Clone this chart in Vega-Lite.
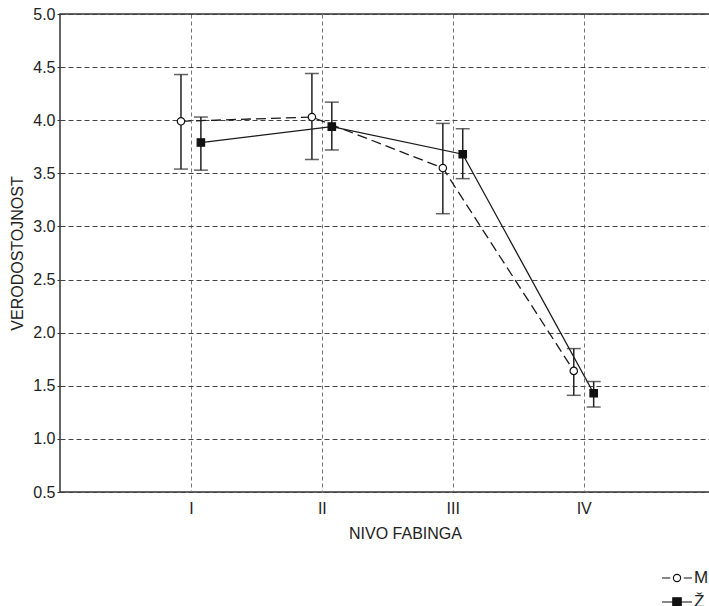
{
  "$schema": "https://vega.github.io/schema/vega-lite/v6.json",
  "width": 690,
  "height": 478,
  "autosize": {"type": "none"},
  "padding": {"left": 60, "top": 14, "right": 0, "bottom": 114},
  "background": "white",
  "config": {
    "font": "Liberation Sans",
    "view": {"stroke": "#333", "strokeWidth": 1.5},
    "legend": {"labelFontSize": 17, "labelColor": "#222", "symbolSize": 900, "rowPadding": -9, "labelOffset": 1}
  },
  "data": {
    "values": [
      {"level": 1, "group": "M", "mean": 3.99, "lo": 3.54, "hi": 4.43},
      {"level": 2, "group": "M", "mean": 4.03, "lo": 3.63, "hi": 4.44},
      {"level": 3, "group": "M", "mean": 3.55, "lo": 3.12, "hi": 3.97},
      {"level": 4, "group": "M", "mean": 1.64, "lo": 1.41, "hi": 1.85},
      {"level": 1, "group": "Ž", "mean": 3.79, "lo": 3.53, "hi": 4.03},
      {"level": 2, "group": "Ž", "mean": 3.94, "lo": 3.72, "hi": 4.17},
      {"level": 3, "group": "Ž", "mean": 3.68, "lo": 3.45, "hi": 3.92},
      {"level": 4, "group": "Ž", "mean": 1.43, "lo": 1.30, "hi": 1.54}
    ]
  },
  "transform": [
    {"calculate": "datum.level + (datum.group == 'M' ? -0.076 : 0.076)", "as": "xpos"}
  ],
  "encoding": {
    "x": {
      "field": "xpos",
      "type": "quantitative",
      "scale": {"domain": [0, 5.27], "nice": false, "zero": false},
      "axis": {
        "values": [1, 2, 3, 4],
        "labelExpr": "['', 'I', 'II', 'III', 'IV'][datum.value]",
        "title": "NIVO FABINGA",
        "domain": false,
        "ticks": false,
        "labelFontSize": 16,
        "labelColor": "#222",
        "labelPadding": 8,
        "titleFontSize": 16,
        "titleFontWeight": "normal",
        "titleColor": "#222",
        "titlePadding": 9,
        "grid": true,
        "gridColor": "#777",
        "gridDash": [4, 3],
        "gridWidth": 1
      }
    }
  },
  "layer": [
    {
      "transform": [{"filter": "datum.group == 'M'"}],
      "mark": {"type": "line", "color": "#1a1a1a", "strokeWidth": 1.3, "strokeDash": [10, 5]},
      "encoding": {
        "y": {
          "field": "mean",
          "type": "quantitative",
          "scale": {"domain": [0.5, 5], "nice": false, "zero": false},
          "axis": {
            "values": [0.5, 1, 1.5, 2, 2.5, 3, 3.5, 4, 4.5, 5],
            "format": ".1f",
            "title": "VERODOSTOJNOST",
            "domain": false,
            "ticks": true,
            "tickSize": 3,
            "tickColor": "#333",
            "labelFontSize": 16,
            "labelColor": "#222",
            "labelPadding": 2,
            "titleFontSize": 16,
            "titleFontWeight": "normal",
            "titleColor": "#222",
            "titlePadding": 7,
            "grid": true,
            "gridColor": "#444",
            "gridDash": [5, 3],
            "gridWidth": 1
          }
        }
      }
    },
    {
      "transform": [{"filter": "datum.group == 'Ž'"}],
      "mark": {"type": "line", "color": "#1a1a1a", "strokeWidth": 1.3},
      "encoding": {
        "y": {"field": "mean", "type": "quantitative"}
      }
    },
    {
      "mark": {"type": "rule", "color": "#222", "strokeWidth": 1.5},
      "encoding": {
        "y": {"field": "lo", "type": "quantitative"},
        "y2": {"field": "hi"}
      }
    },
    {
      "mark": {"type": "tick", "orient": "horizontal", "size": 14, "thickness": 1.5, "color": "#222"},
      "encoding": {"y": {"field": "lo", "type": "quantitative"}}
    },
    {
      "mark": {"type": "tick", "orient": "horizontal", "size": 14, "thickness": 1.5, "color": "#222"},
      "encoding": {"y": {"field": "hi", "type": "quantitative"}}
    },
    {
      "transform": [{"filter": "datum.group == 'M'"}],
      "mark": {"type": "point", "shape": "circle", "filled": true, "fill": "white", "stroke": "#111", "strokeWidth": 1.2, "opacity": 1, "size": 55},
      "encoding": {
        "y": {"field": "mean", "type": "quantitative"}
      }
    },
    {
      "transform": [{"filter": "datum.group == 'Ž'"}],
      "mark": {"type": "point", "shape": "square", "filled": true, "fill": "#111", "stroke": "#111", "strokeWidth": 1.2, "opacity": 1, "size": 55},
      "encoding": {
        "y": {"field": "mean", "type": "quantitative"}
      }
    },
    {
      "transform": [{"filter": "false"}],
      "mark": {"type": "point", "filled": true, "strokeWidth": 1.2, "opacity": 1, "size": 900},
      "encoding": {
        "y": {"field": "mean", "type": "quantitative"},
        "shape": {
          "field": "group",
          "type": "nominal",
          "scale": {"domain": ["M", "Ž"], "range": ["M-1,0H-0.45M0.45,0H1M-0.24,0A0.24,0.24,0,1,0,0.24,0A0.24,0.24,0,1,0,-0.24,0", "M-1,0H1M-0.28,-0.28H0.28V0.28H-0.28Z"]},
          "legend": {
            "orient": "none",
            "legendX": 601,
            "legendY": 548,
            "title": null,
            "labelFontSize": 17,
            "symbolSize": 900,
            "symbolStrokeWidth": 1.2,
            "symbolOpacity": 1,
            "rowPadding": -9,
            "labelOffset": 1
          }
        },
        "fill": {
          "field": "group",
          "type": "nominal",
          "scale": {"domain": ["M", "Ž"], "range": ["white", "#111"]},
          "legend": {
            "orient": "none",
            "legendX": 601,
            "legendY": 548,
            "title": null,
            "labelFontSize": 17,
            "symbolSize": 900,
            "symbolStrokeWidth": 1.2,
            "symbolOpacity": 1,
            "rowPadding": -9,
            "labelOffset": 1
          }
        },
        "stroke": {
          "field": "group",
          "type": "nominal",
          "scale": {"domain": ["M", "Ž"], "range": ["#111", "#111"]},
          "legend": {
            "orient": "none",
            "legendX": 601,
            "legendY": 548,
            "title": null,
            "labelFontSize": 17,
            "symbolSize": 900,
            "symbolStrokeWidth": 1.2,
            "symbolOpacity": 1,
            "rowPadding": -9,
            "labelOffset": 1
          }
        }
      }
    }
  ]
}
